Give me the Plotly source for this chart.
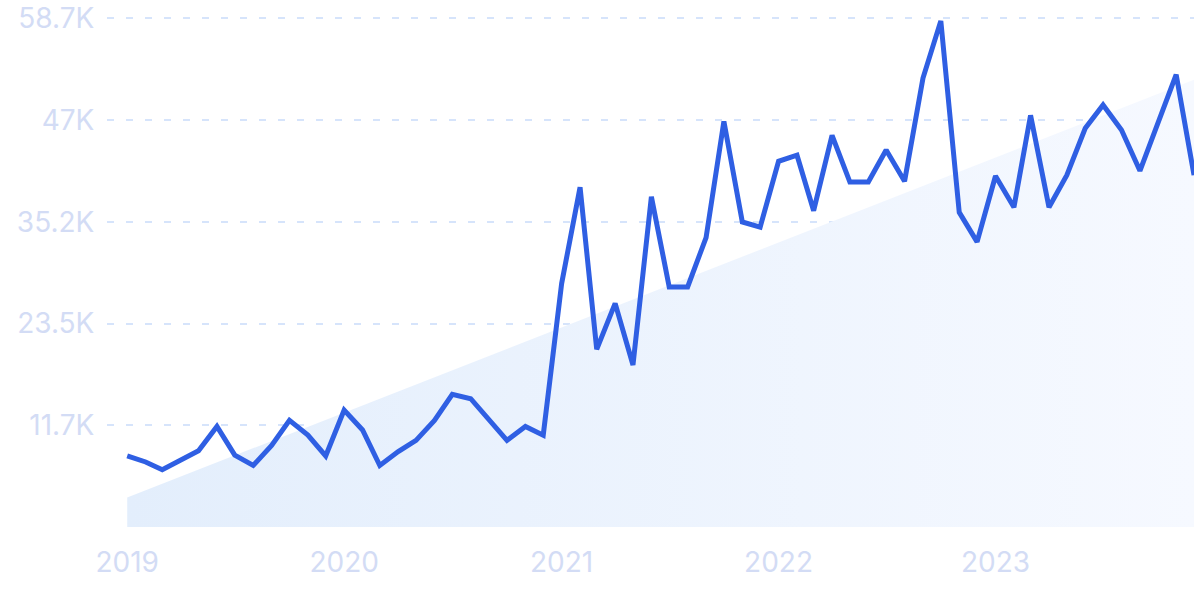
import plotly.graph_objects as go
import pandas as pd

months = pd.date_range("2019-01-01", "2023-12-01", freq="MS")
values = [8.2, 7.5, 6.6, 7.7, 8.8, 11.6, 8.3, 7.1, 9.4, 12.3, 10.6, 8.2,
          13.5, 11.2, 7.1, 8.7, 10.0, 12.3, 15.3, 14.8, 12.3, 10.0, 11.6, 10.6,
          28.1, 39.2, 20.5, 25.8, 18.7, 38.1, 27.7, 27.7, 33.4, 46.8, 35.2, 34.6,
          42.2, 42.9, 36.5, 45.2, 39.8, 39.8, 43.5, 39.9, 51.8, 58.4, 36.3, 32.9,
          40.5, 36.9, 47.5, 36.9, 40.6, 46.0, 48.7, 45.8, 41.1, 46.6, 52.2, 40.6]
values = [v * 1000 for v in values]

trend_x = [months[0], months[-1]]
trend_y = [3400, 51600]

tick_vals = [11740, 23480, 35220, 46960, 58700]
tick_text = ["11.7K", "23.5K", "35.2K", "47K", "58.7K"]
year_ticks = ["2019-01-01", "2020-01-01", "2021-01-01", "2022-01-01", "2023-01-01"]
year_labels = ["2019", "2020", "2021", "2022", "2023"]

fig = go.Figure()
fig.add_trace(go.Scatter(
    x=trend_x, y=trend_y, mode="lines", fill="tozeroy",
    line=dict(width=0, color="rgba(0,0,0,0)"),
    fillgradient=dict(type="horizontal",
                      colorscale=[[0, "#e3eefc"], [1, "#f6f9ff"]]),
    hoverinfo="skip", showlegend=False))
fig.add_trace(go.Scatter(
    x=months, y=values, mode="lines",
    line=dict(color="#2f5fe3", width=5, shape="linear"),
    showlegend=False))

font_family = "Inter, Roboto, sans-serif"
fig.update_layout(
    width=1200, height=599,
    margin=dict(l=107, r=6, t=7, b=72),
    plot_bgcolor="white", paper_bgcolor="white",
    font=dict(family=font_family, size=28, color="#d3dcf5"),
    xaxis=dict(
        range=["2018-11-28", "2023-12-01"],
        tickvals=year_ticks, ticktext=year_labels,
        showgrid=False, zeroline=False, showline=False, automargin=False,
        ticks="outside", ticklen=10, tickcolor="rgba(0,0,0,0)",
        ticklabeloverflow="allow",
        tickfont=dict(size=28, color="#d3dcf5", family=font_family)),
    yaxis=dict(
        range=[0, 60000],
        tickvals=tick_vals, ticktext=tick_text,
        showgrid=True, gridcolor="#d6e4fb", gridwidth=1.5, griddash="7px,12px",
        zeroline=False, showline=False, automargin=False,
        ticks="outside", ticklen=6, tickcolor="rgba(0,0,0,0)",
        ticklabeloverflow="allow",
        tickfont=dict(size=28, color="#d3dcf5", family=font_family)),
)

fig.write_html("out.html",
               config={"displayModeBar": False},
               post_script="document.body.style.margin='0';document.body.style.overflow='hidden';")
